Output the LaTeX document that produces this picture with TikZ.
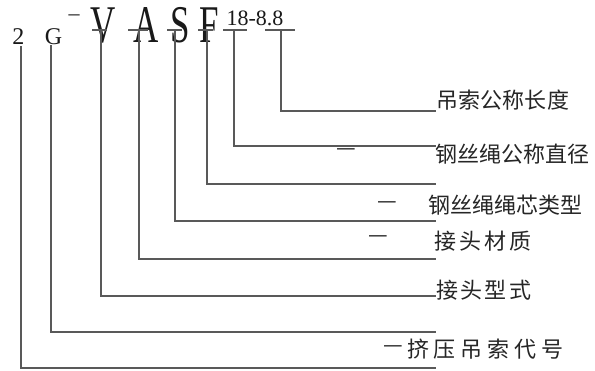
\documentclass[tikz,border=0pt]{standalone}
\usepackage{fontspec}
\setmainfont{Liberation Serif}
\newfontfamily\cjk{Noto Sans CJK SC}
\newcommand\spreadbox[2]{\makebox[#1][s]{#2}}
\tikzset{
  conn/.style={draw=black!65, line width=1.2pt},
  tick/.style={draw=black!65, line width=1.8pt},
  big/.style={inner sep=0pt, anchor=base, xscale=0.66, font=\fontsize{53}{53}\selectfont, text=black!90},
  small/.style={inner sep=0pt, anchor=base, font=\fontsize{22}{22}\selectfont, text=black!90},
  mid/.style={inner sep=0pt, anchor=base, font=\fontsize{24}{24}\selectfont, text=black!90},
  lab/.style={inner sep=0pt, anchor=west, font=\cjk\fontsize{22}{22}\selectfont, text=black!85},
  dsh/.style={inner sep=0pt, font=\cjk\fontsize{22}{22}\selectfont, text=black!85},
}
\begin{document}
\begin{tikzpicture}[x=1pt,y=-1pt]
\useasboundingbox[fill=white] (0,0) rectangle (595,370);
% code letters
\node[mid] (c2) at (18.5,44) {2};
\node[mid] (cG) at (53.5,44) {G};
\node[small] (hy) at (74,20) {–};
\node[big] (cV) at (103.5,42) {V};
\node[big] (cA) at (146,42) {A};
\node[big] (cS) at (180.5,42) {S};
\node[big] (cF) at (209,42) {F};
\node[small] (cN) at (255,25) {18-8.8};
% ticks
\draw[tick] (92,30) -- (107,30);
\draw[tick] (128,30) -- (148,30);
\draw[tick] (167,30) -- (182,30);
\draw[tick] (198,30) -- (213,30);
\draw[tick] (223,30) -- (247,30);
\draw[tick] (265,30) -- (295,30);
% connector tops
\coordinate (t1) at (281,30);
\coordinate (t2) at (234,30);
\coordinate (t3) at (207,30);
\coordinate (t4) at (175,30);
\coordinate (t5) at (139,30);
\coordinate (t6) at (101,30);
\coordinate (t7) at (51,45);
\coordinate (t8) at (21,46);
% connector ends
\coordinate (e1) at (436,111);
\coordinate (e2) at (436,146);
\coordinate (e3) at (436,184);
\coordinate (e4) at (436,221);
\coordinate (e5) at (436,259);
\coordinate (e6) at (436,296);
\coordinate (e7) at (436,332);
\coordinate (e8) at (436,368);
\foreach \i in {1,...,8} \draw[conn] (t\i) |- (e\i);
% labels
\node[lab] (l1) at (436,100) {\spreadbox{133pt}{吊\hfil 索\hfil 公\hfil 称\hfil 长\hfil 度}};
\node[lab] (l2) at (435,154) {\spreadbox{154pt}{钢\hfil 丝\hfil 绳\hfil 公\hfil 称\hfil 直\hfil 径}};
\node[lab] (l3) at (428,205) {\spreadbox{154pt}{钢\hfil 丝\hfil 绳\hfil 绳\hfil 芯\hfil 类\hfil 型}};
\node[lab] (l4) at (434,241) {\spreadbox{97pt}{接\hfil 头\hfil 材\hfil 质}};
\node[lab] (l5) at (436,290) {\spreadbox{95pt}{接\hfil 头\hfil 型\hfil 式}};
\node[lab] (l6) at (407,349) {\spreadbox{156pt}{挤\hfil 压\hfil 吊\hfil 索\hfil 代\hfil 号}};
% stray dashes
\node[dsh] (d1) at (346,152) {—};
\node[dsh] (d2) at (387,205) {—};
\node[dsh] (d3) at (378,239) {—};
\node[dsh] (d4) at (393,349) {—};
\end{tikzpicture}
\end{document}
